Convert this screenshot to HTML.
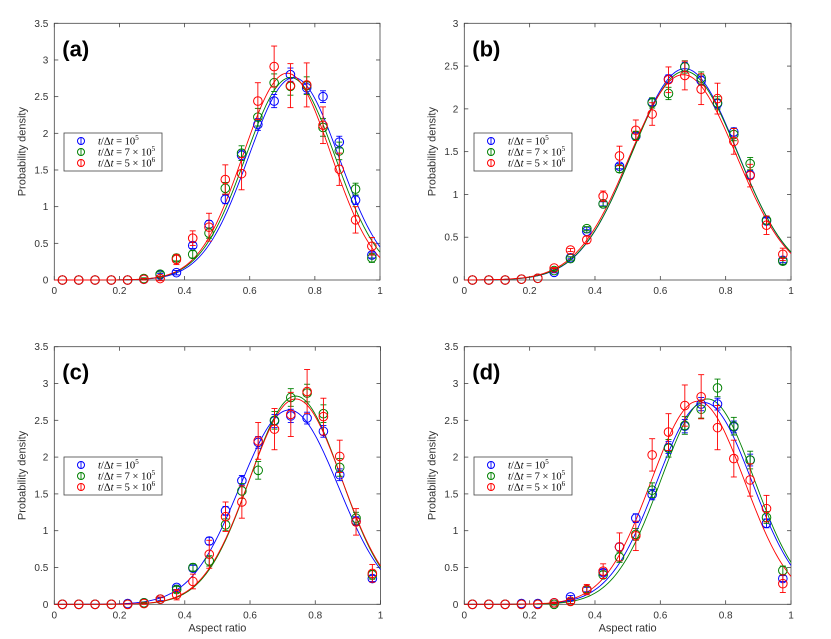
<!DOCTYPE html>
<html><head><meta charset="utf-8">
<style>
html,body{margin:0;padding:0;background:#fff;}
svg{display:block;font-family:"Liberation Sans",sans-serif;}
</style></head>
<body>
<svg id="fig" width="831" height="639" viewBox="0 0 831 639"></svg>
<script>
const xCenters = [0.025,0.075,0.125,0.175,0.225,0.275,0.325,0.375,0.425,0.475,0.525,0.575,0.625,0.675,0.725,0.775,0.825,0.875,0.925,0.975];
const seriesLabels = ["10^5","7 × 10^5","5 × 10^6"];
const seriesColors = ["#0000ff","#008000","#ff0000"];

const aBlue  = [0,0,0,0,0,0.01,0.07,0.10,0.47,0.76,1.10,1.70,2.12,2.44,2.80,2.62,2.50,1.88,1.09,0.34];
const aGreen = [0,0,0,0,0,0.02,0.08,0.30,0.35,0.64,1.25,1.73,2.22,2.69,2.64,2.65,2.08,1.76,1.24,0.30];
const aRed   = [0,0,0,0,0,0.01,0.02,0.28,0.57,0.72,1.37,1.45,2.44,2.91,2.65,2.66,2.11,1.51,0.82,0.46];
const bBlue  = [0,0,0,0.01,0.02,0.09,0.26,0.57,0.89,1.33,1.68,2.08,2.35,2.49,2.33,2.06,1.73,1.23,0.69,0.23];
const bGreen = [0,0,0,0.01,0.02,0.11,0.25,0.60,0.89,1.30,1.69,2.07,2.18,2.49,2.36,2.07,1.70,1.36,0.70,0.22];
const bRed   = [0,0,0,0.01,0.02,0.14,0.35,0.47,0.98,1.45,1.75,1.94,2.34,2.39,2.23,2.12,1.62,1.22,0.64,0.30];
const cBlue  = [0,0,0,0,0.01,0.02,0.07,0.23,0.49,0.86,1.27,1.68,2.20,2.49,2.56,2.53,2.35,1.76,1.13,0.35];
const cGreen = [0,0,0,0,0,0.02,0.07,0.20,0.50,0.59,1.08,1.54,1.82,2.50,2.81,2.87,2.59,1.86,1.17,0.40];
const cRed   = [0,0,0,0,0,0.01,0.07,0.13,0.31,0.68,1.19,1.39,2.22,2.38,2.58,2.89,2.55,2.01,1.12,0.42];
const dBlue  = [0,0,0,0.01,0.01,0.02,0.10,0.20,0.43,0.78,1.17,1.49,2.13,2.42,2.72,2.72,2.41,1.96,1.10,0.35];
const dGreen = [0,0,0,0,0,0,0.04,0.20,0.40,0.64,0.95,1.55,2.12,2.43,2.65,2.94,2.42,1.96,1.18,0.46];
const dRed   = [0,0,0,0,0,0.02,0.04,0.20,0.45,0.78,0.93,2.03,2.34,2.70,2.82,2.40,1.98,1.69,1.30,0.28];

const errBlue  = [0,0,0,0,0,0.01,0.02,0.03,0.04,0.05,0.06,0.07,0.08,0.09,0.09,0.08,0.08,0.08,0.06,0.04];
const errGreen = [0,0,0,0,0,0.01,0.03,0.04,0.05,0.07,0.08,0.10,0.12,0.12,0.12,0.12,0.12,0.12,0.08,0.06];
const errRed   = [0,0,0,0,0,0.01,0.03,0.07,0.10,0.19,0.20,0.22,0.25,0.28,0.30,0.30,0.25,0.22,0.18,0.12];

const aFits = [[2.76,0.735,0.139],[2.76,0.725,0.138],[2.82,0.715,0.135]];
const bFits = [[2.47,0.675,0.161],[2.44,0.675,0.162],[2.40,0.670,0.163]];
const cFits = [[2.64,0.720,0.151],[2.83,0.740,0.140],[2.79,0.740,0.142]];
const dFits = [[2.74,0.735,0.146],[2.79,0.745,0.143],[2.76,0.715,0.143]];

const yTicksA = [0,0.5,1,1.5,2,2.5,3,3.5];
const yTicksB = [0,0.5,1,1.5,2,2.5,3];
const xTicks = [0,0.2,0.4,0.6,0.8,1];

const NS="http://www.w3.org/2000/svg";
const svg=document.getElementById('fig');
function mk(tag,attrs,parent){const e=document.createElementNS(NS,tag);for(const k in attrs)e.setAttribute(k,attrs[k]);(parent||svg).appendChild(e);return e;}

const panels=[
 {id:'a',L:54.3,R:380,T:23.3,B:280,ymax:3.5,yt:yTicksA,data:[aBlue,aGreen,aRed],fits:aFits,xlabel:false,leg:[64,133]},
 {id:'b',L:464.3,R:791,T:23.3,B:280,ymax:3,yt:yTicksB,data:[bBlue,bGreen,bRed],fits:bFits,xlabel:false,leg:[474,133]},
 {id:'c',L:54.3,R:380.5,T:346.7,B:604.3,ymax:3.5,yt:yTicksA,data:[cBlue,cGreen,cRed],fits:cFits,xlabel:true,leg:[64,457]},
 {id:'d',L:464.3,R:791,T:346.7,B:604.3,ymax:3.5,yt:yTicksA,data:[dBlue,dGreen,dRed],fits:dFits,xlabel:true,leg:[474,457]}
];
const errs=[errBlue,errGreen,errRed];

function legendText(g,x,y,lbl){
  const t=mk('text',{x:x,y:y,'font-family':'"Liberation Serif",serif','font-size':'10.5',fill:'#000'},g);
  const parts=[['t',true],['/Δ',false],['t',true]];
  parts.forEach(p=>{const s=mk('tspan',p[1]?{'font-style':'italic'}:{},t);s.textContent=p[0];});
  const [base,exp]=lbl.split('^');
  const s1=mk('tspan',{},t);s1.textContent=' = '+base;
  const s2=mk('tspan',{'font-size':'7','dy':'-4.5'},t);s2.textContent=exp;
}

panels.forEach(p=>{
  const g=mk('g',{});
  
  
  const X=v=>p.L+(p.R-p.L)*v;
  const Y=v=>p.B-(p.B-p.T)*v/p.ymax;
  const frame=mk('rect',{x:p.L,y:p.T,width:p.R-p.L,height:p.B-p.T,fill:'none',stroke:'#444','stroke-width':0.8},g);
  
  
  xTicks.forEach(v=>{
    mk('line',{x1:X(v),x2:X(v),y1:p.B,y2:p.B-4,stroke:'#444','stroke-width':0.8},g);
    mk('line',{x1:X(v),x2:X(v),y1:p.T,y2:p.T+4,stroke:'#444','stroke-width':0.8},g);
    const t=mk('text',{x:X(v),y:p.B+14,'text-anchor':'middle','font-size':'10',fill:'#333'},g);
    t.textContent=String(v);
    
    
  });
  p.yt.forEach(v=>{
    mk('line',{x1:p.L,x2:p.L+4,y1:Y(v),y2:Y(v),stroke:'#444','stroke-width':0.8},g);
    mk('line',{x1:p.R,x2:p.R-4,y1:Y(v),y2:Y(v),stroke:'#444','stroke-width':0.8},g);
    const t=mk('text',{x:p.L-6,y:Y(v)+3.5,'text-anchor':'end','font-size':'10',fill:'#333'},g);
    t.textContent=String(v);
    
    
  });
  const cy=(p.T+p.B)/2;
  const yl=mk('text',{x:0,y:0,transform:`translate(${p.L-29},${cy}) rotate(-90)`,'text-anchor':'middle','font-size':'11',fill:'#333'},g);
  yl.textContent='Probability density';
  
  
  if(p.xlabel){
    const xl=mk('text',{x:(p.L+p.R)/2,y:p.B+27,'text-anchor':'middle','font-size':'11',fill:'#333'},g);
    xl.textContent='Aspect ratio';
    
    
  }
  const pl=mk('text',{x:p.L+8,y:p.T+33,'font-size':'22','font-weight':'bold',fill:'#000'},g);
  pl.textContent='('+p.id+')';
  
  
  p.fits.forEach((f,si)=>{
    let d='';
    for(let i=0;i<=200;i++){const x=i/200;const y=f[0]*Math.exp(-((x-f[1])**2)/(2*f[2]*f[2]));d+=(i?'L':'M')+X(x).toFixed(2)+','+Y(y).toFixed(2);}
    const c=mk('path',{d:d,fill:'none',stroke:seriesColors[si],'stroke-width':0.9},g);
    
    
  });
  p.data.forEach((arr,si)=>{
    arr.forEach((v,i)=>{
      const e=errs[si][i]*(p.id==='b'?0.6:1);
      const x=X(xCenters[i]);
      if(e>0){
        mk('line',{x1:x,x2:x,y1:Y(v-e),y2:Y(v+e),stroke:seriesColors[si],'stroke-width':0.9},g);
        mk('line',{x1:x-3,x2:x+3,y1:Y(v-e),y2:Y(v-e),stroke:seriesColors[si],'stroke-width':0.9},g);
        mk('line',{x1:x-3,x2:x+3,y1:Y(v+e),y2:Y(v+e),stroke:seriesColors[si],'stroke-width':0.9},g);
      }
      const c=mk('circle',{cx:x,cy:Y(v),r:4.3,fill:'none',stroke:seriesColors[si],'stroke-width':1},g);
      
      
    });
  });
  const lg=mk('g',{},g);
  
  
  mk('rect',{x:p.leg[0],y:p.leg[1],width:98,height:38,fill:'#fff',stroke:'#444','stroke-width':0.8},lg);
  seriesLabels.forEach((lbl,si)=>{
    const yy=p.leg[1]+8+si*11;
    const lx=p.leg[0]+17;
    mk('line',{x1:lx,x2:lx,y1:yy-4,y2:yy+4,stroke:seriesColors[si],'stroke-width':0.9},lg);
    mk('circle',{cx:lx,cy:yy,r:3.5,fill:'none',stroke:seriesColors[si],'stroke-width':1},lg);
    const e=mk('g',{},lg);
    
    
    legendText(e,p.leg[0]+34,yy+3.5,lbl);
  });
});
</script>
</body></html>
